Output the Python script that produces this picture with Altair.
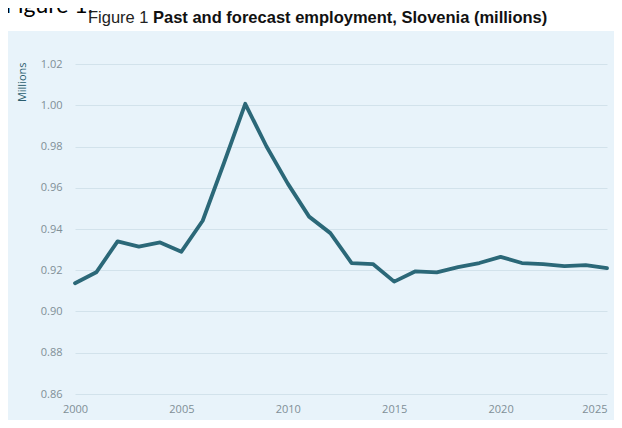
import altair as alt
import pandas as pd

years = list(range(2000, 2026))
employment = [0.9137, 0.919, 0.934, 0.9315, 0.9335, 0.929, 0.944, 0.972, 1.0007,
              0.980, 0.962, 0.946, 0.938, 0.9235, 0.923, 0.9145, 0.9195, 0.919,
              0.9215, 0.9235, 0.9265, 0.9235, 0.923, 0.922, 0.9225, 0.921]
y_ticks = [0.86, 0.88, 0.90, 0.92, 0.94, 0.96, 0.98, 1.00, 1.02]
x_ticks = [2000, 2005, 2010, 2015, 2020, 2025]

df = pd.DataFrame({"year": years, "value": employment})
one = pd.DataFrame({"k": [0]})

W, H = 532, 330
PL, PT, PR, PB = 67, 56, 7, 26

line = alt.Chart(df).mark_line(
    color="#2b6878", strokeWidth=3.8, strokeJoin="round", strokeCap="round"
).encode(
    x=alt.X("year:Q", scale=alt.Scale(domain=[2000, 2025], nice=False),
            axis=alt.Axis(values=x_ticks, format="d", title=None, grid=False,
                          domain=False, ticks=False, labelPadding=9,
                          labelFlush=False,
                          labelAlign={"expr": "datum.value == 2025 ? 'right' : 'center'"},
                          labelColor="#7f8f97", labelFont="Open Sans",
                          labelFontSize=11)),
    y=alt.Y("value:Q", scale=alt.Scale(domain=[0.86, 1.02], nice=False, zero=False),
            axis=alt.Axis(values=y_ticks, format=".2f", title="Millions",
                          titleAnchor="end", titleX=-53, titleY=-2,
                          titleAngle=-90, titleAlign="right", titleBaseline="middle",
                          titleColor="#2a5d6e", titleFont="Open Sans",
                          titleFontSize=11, titleFontWeight="normal",
                          grid=True, gridColor="#d2e2eb", gridWidth=1,
                          domain=False, ticks=False, labelPadding=13,
                          labelColor="#7f8f97", labelFont="Open Sans",
                          labelFontSize=11)),
)

white_band = alt.Chart(one).mark_rect(color="white").encode(
    x=alt.value(-PL), x2=alt.value(W + PR), y=alt.value(-PT), y2=alt.value(-33)
)

fig_big = alt.Chart(one).mark_text(
    text="Figure 1:", font="Lato", fontSize=23, align="left", baseline="alphabetic",
    color="#000000"
).encode(x=alt.value(-PL - 3), y=alt.value(-51))

fig_small = alt.Chart(one).mark_text(
    text="Figure 1", font="Liberation Sans", fontSize=16.5, align="left",
    baseline="middle", color="#222222"
).encode(x=alt.value(13), y=alt.value(-46))

fig_bold = alt.Chart(one).mark_text(
    text="Past and forecast employment, Slovenia (millions)", font="Liberation Sans",
    fontSize=16.5, fontWeight="bold", align="left", baseline="middle", color="#111111"
).encode(x=alt.value(78), y=alt.value(-46))

chart = alt.layer(line, white_band, fig_big, fig_small, fig_bold).properties(
    width=W, height=H,
    padding={"left": PL, "top": PT, "right": PR, "bottom": PB},
    autosize=alt.AutoSizeParams(type="none"),
    background="#e8f3fa",
).configure_view(stroke=None)

chart.save("out.html", embed_options={"renderer": "svg", "actions": False})
